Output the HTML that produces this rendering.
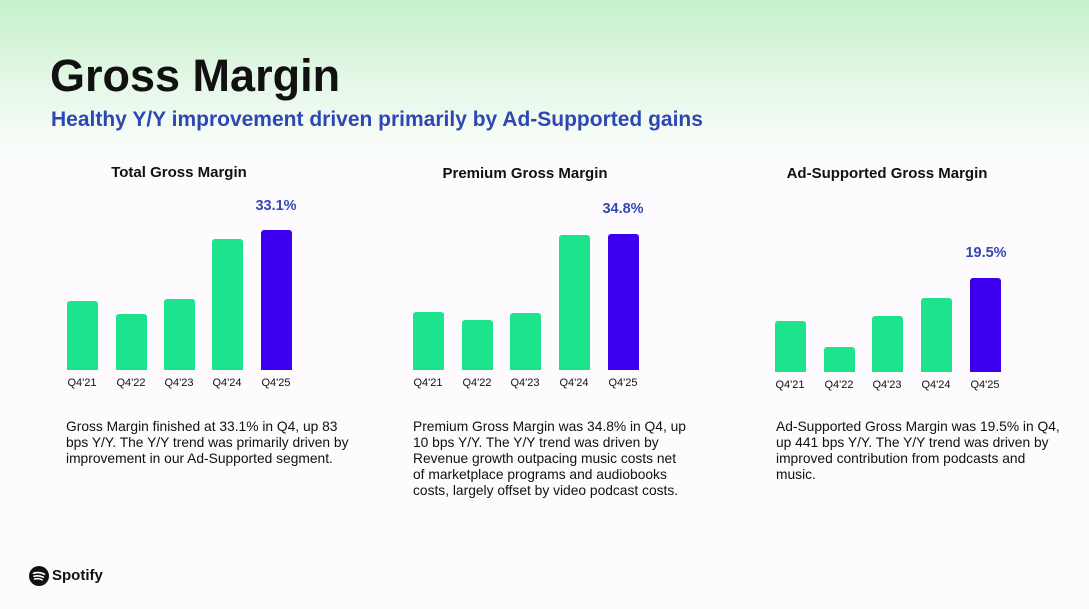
<!DOCTYPE html>
<html><head><meta charset="utf-8"><style>
body{margin:0;width:1089px;height:609px;overflow:hidden;font-family:"Liberation Sans",Arial,sans-serif;background:linear-gradient(to bottom,#c6f0cb 0px,#e4f7e6 80px,#f7fcf7 140px,#fdfbfd 170px,#fdfbfd 609px);position:relative}
.a{position:absolute;white-space:nowrap}
.t{left:50px;top:50px;font-size:45px;font-weight:bold;color:#111}
.s{left:51px;top:108px;font-size:21px;font-weight:bold;color:#2e48b3;letter-spacing:0}
.h{font-size:15px;font-weight:bold;color:#111;transform:translateX(-50%)}
.b{position:absolute;width:31px;background:#1de38d;border-radius:3px 3px 0 0}
.p{background:#3d00ee}
.l{font-size:11px;color:#111;transform:translateX(-50%)}
.v{font-size:14.5px;font-weight:bold;color:#3349b0;transform:translateX(-50%)}
.d{font-size:13.8px;line-height:16px;color:#111}
</style></head><body>
<div class="a t">Gross Margin</div>
<div class="a s">Healthy Y/Y improvement driven primarily by Ad-Supported gains</div>

<div class="a h" style="left:179px;top:164px">Total Gross Margin</div>
<div class="a h" style="left:525px;top:165px">Premium Gross Margin</div>
<div class="a h" style="left:887px;top:165px">Ad-Supported Gross Margin</div>

<div class="b" style="left:67px;top:301px;height:69px"></div>
<div class="b" style="left:116px;top:314px;height:56px"></div>
<div class="b" style="left:164px;top:299px;height:71px"></div>
<div class="b" style="left:212px;top:239px;height:131px"></div>
<div class="b p" style="left:261px;top:230px;height:140px"></div>
<div class="a v" style="left:276px;top:198px">33.1%</div>
<div class="a l" style="left:82px;top:377px">Q4'21</div>
<div class="a l" style="left:131px;top:377px">Q4'22</div>
<div class="a l" style="left:179px;top:377px">Q4'23</div>
<div class="a l" style="left:227px;top:377px">Q4'24</div>
<div class="a l" style="left:276px;top:377px">Q4'25</div>

<div class="b" style="left:413px;top:312px;height:58px"></div>
<div class="b" style="left:462px;top:320px;height:50px"></div>
<div class="b" style="left:510px;top:313px;height:57px"></div>
<div class="b" style="left:559px;top:235px;height:135px"></div>
<div class="b p" style="left:608px;top:234px;height:136px"></div>
<div class="a v" style="left:623px;top:201px">34.8%</div>
<div class="a l" style="left:428px;top:377px">Q4'21</div>
<div class="a l" style="left:477px;top:377px">Q4'22</div>
<div class="a l" style="left:525px;top:377px">Q4'23</div>
<div class="a l" style="left:574px;top:377px">Q4'24</div>
<div class="a l" style="left:623px;top:377px">Q4'25</div>

<div class="b" style="left:775px;top:321px;height:51px"></div>
<div class="b" style="left:824px;top:347px;height:25px"></div>
<div class="b" style="left:872px;top:316px;height:56px"></div>
<div class="b" style="left:921px;top:298px;height:74px"></div>
<div class="b p" style="left:970px;top:278px;height:94px"></div>
<div class="a v" style="left:986px;top:245px">19.5%</div>
<div class="a l" style="left:790px;top:379px">Q4'21</div>
<div class="a l" style="left:839px;top:379px">Q4'22</div>
<div class="a l" style="left:887px;top:379px">Q4'23</div>
<div class="a l" style="left:936px;top:379px">Q4'24</div>
<div class="a l" style="left:985px;top:379px">Q4'25</div>

<div class="a d" style="left:66px;top:419px">Gross Margin finished at 33.1% in Q4, up 83<br>bps Y/Y. The Y/Y trend was primarily driven by<br>improvement in our Ad-Supported segment.</div>
<div class="a d" style="left:413px;top:419px">Premium Gross Margin was 34.8% in Q4, up<br>10 bps Y/Y. The Y/Y trend was driven by<br>Revenue growth outpacing music costs net<br>of marketplace programs and audiobooks<br>costs, largely offset by video podcast costs.</div>
<div class="a d" style="left:776px;top:419px">Ad-Supported Gross Margin was 19.5% in Q4,<br>up 441 bps Y/Y. The Y/Y trend was driven by<br>improved contribution from podcasts and<br>music.</div>

<svg class="a" style="left:29px;top:566px" width="20" height="20" viewBox="0 0 20 20"><circle cx="10" cy="10" r="10" fill="#111"/><path d="M4.5 7.3c3.8-1.1 7.8-.8 11 1M5 10.3c3.2-.9 6.5-.6 9.4.9M5.6 13c2.6-.7 5.2-.4 7.5.8" stroke="#fff" stroke-width="1.6" fill="none" stroke-linecap="round"/></svg>
<div class="a" style="left:52px;top:567px;font-size:15px;font-weight:bold;color:#111">Spotify</div>
</body></html>
